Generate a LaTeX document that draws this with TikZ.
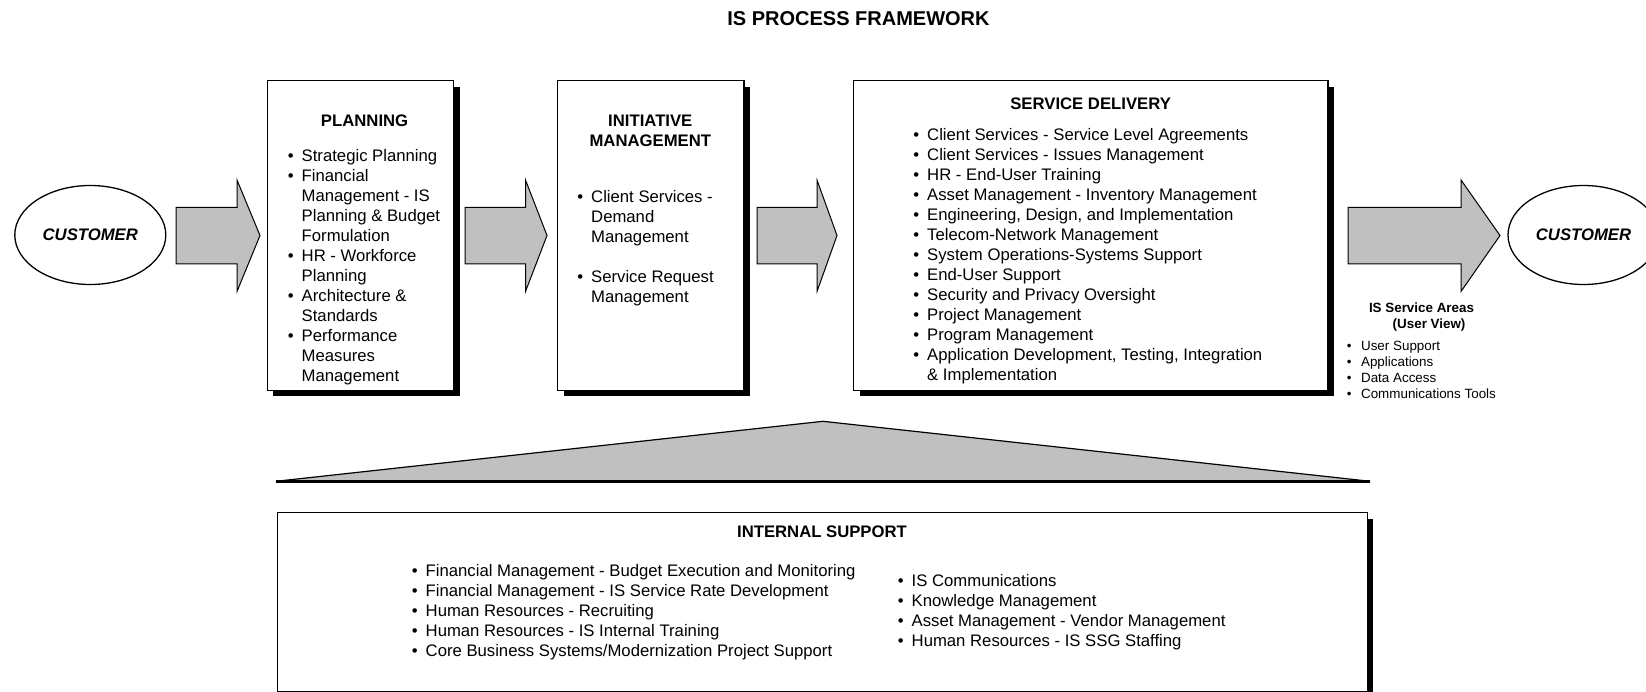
\documentclass[tikz,border=0pt]{standalone}
\usepackage{fontspec}
\setmainfont{Liberation Sans}
\usetikzlibrary{shapes.geometric,shadows}
\definecolor{arrgray}{HTML}{C0C0C0}
\newcommand\bul{\llap{\textbullet\hspace{8pt}}}
\newcommand\sbul{\llap{\textbullet\hspace{9.5pt}}}
\newcommand\fl{\rule{0pt}{15pt}}
\newcommand\sfl{\rule{0pt}{12pt}}
\newcommand\blockarrow[3]{%
  \filldraw[arrowshape] (#1,207.5) -- (#2,207.5) -- (#2,180) -- (#3,235.5)
    -- (#2,291.5) -- (#2,264) -- (#1,264) -- cycle;}
\tikzset{
  arrowshape/.style={fill=arrgray, draw=black, line width=1pt, line join=miter},
  procbox/.style={rectangle, draw=black, fill=white, line width=1.4pt, inner sep=0pt,
    anchor=north west,
    drop shadow={shadow xshift=6pt, shadow yshift=-6pt, opacity=1, fill=black}},
  custell/.style={ellipse, draw=black, line width=1.3pt, inner sep=0pt,
    minimum width=151pt, minimum height=99pt,
    font=\fontsize{16.7}{20}\selectfont\bfseries\itshape},
  heading/.style={inner sep=0pt, anchor=base, align=center,
    font=\fontsize{16.7}{20}\selectfont\bfseries},
  lst/.style={inner sep=0pt, anchor=north west, align=left,
    font=\fontsize{16.7}{20}\selectfont},
  smalllst/.style={inner sep=0pt, anchor=north west, align=left,
    font=\fontsize{13.4}{15.9}\selectfont},
}
\begin{document}
\begin{tikzpicture}[x=1pt,y=-1pt]
\useasboundingbox (0,0) rectangle (1646,692);
\clip (0,0) rectangle (1646,692);

% title
\node[inner sep=0pt, anchor=base, font=\fontsize{20}{24}\selectfont\bfseries]
  (title) at (858.5,25.7) {IS PROCESS FRAMEWORK};

% customers
\node[custell] (cust1) at (90.3,235) {CUSTOMER};
\node[custell] (cust2) at (1583.5,235) {CUSTOMER};

% block arrows
\blockarrow{176}{237}{260}
\blockarrow{465}{525.5}{547}
\blockarrow{757}{817}{837}
\blockarrow{1348}{1461}{1500}

% process boxes
\node[procbox, minimum width=186.5pt, minimum height=309.5pt] (plan) at (266.5,80) {};
\node[procbox, minimum width=186.5pt, minimum height=309.5pt] (init) at (556.8,80) {};
\node[procbox, minimum width=474.4pt, minimum height=309.5pt] (serv) at (852.9,80) {};

% planning
\node[heading] (planhead) at (364.6,126.7) {PLANNING};
\node[lst] (planlist) at (301.5,146) {\fl\bul Strategic Planning\\
  \bul Financial\\ Management - IS\\ Planning \& Budget\\ Formulation\\
  \bul HR - Workforce\\ Planning\\
  \bul Architecture \&\\ Standards\\
  \bul Performance\\ Measures\\ Management};

% initiative management
\node[heading] (inithead) at (650.3,146.5) {INITIATIVE\\MANAGEMENT};
\node[lst] (initlist) at (591,187) {\fl\bul Client Services -\\ Demand\\ Management\\[20pt]
  \bul Service Request\\ Management};

% service delivery
\node[heading] (servhead) at (1090.6,109.5) {SERVICE DELIVERY};
\node[lst] (servlist) at (927,125) {\fl\bul Client Services - Service Level Agreements\\
  \bul Client Services - Issues Management\\
  \bul HR - End-User Training\\
  \bul Asset Management - Inventory Management\\
  \bul Engineering, Design, and Implementation\\
  \bul Telecom-Network Management\\
  \bul System Operations-Systems Support\\
  \bul End-User Support\\
  \bul Security and Privacy Oversight\\
  \bul Project Management\\
  \bul Program Management\\
  \bul Application Development, Testing, Integration\\
  \& Implementation};

% IS service areas
\node[inner sep=0pt, anchor=north west, align=left,
  font=\fontsize{13.4}{16.5}\selectfont\bfseries] (areahead) at (1368.8,300)
  {\sfl IS Service Areas\\ \hspace*{23.7pt}(User View)};
\node[smalllst] (arealist) at (1360.9,338.5) {\sfl\sbul User Support\\
  \sbul Applications\\ \sbul Data Access\\ \sbul Communications Tools};

% triangle
\filldraw[fill=arrgray, draw=black, line width=1.2pt, line join=miter]
  (276,481.3) -- (823,421.3) -- (1370,481.3) -- cycle;
\draw[line width=2.4pt] (276,481.3) -- (1370,481.3);

% internal support
\node[procbox, minimum width=1090pt, minimum height=178.5pt] (intl) at (276.5,512) {};
\node[heading] (intlhead) at (822,537.5) {INTERNAL SUPPORT};
\node[lst] (intlleft) at (425.5,561.5) {\fl\bul Financial Management - Budget Execution and Monitoring\\
  \bul Financial Management - IS Service Rate Development\\
  \bul Human Resources - Recruiting\\
  \bul Human Resources - IS Internal Training\\
  \bul Core Business Systems/Modernization Project Support};
\node[lst] (intlright) at (911.5,571) {\fl\bul IS Communications\\
  \bul Knowledge Management\\
  \bul Asset Management - Vendor Management\\
  \bul Human Resources - IS SSG Staffing};
\end{tikzpicture}
\end{document}
